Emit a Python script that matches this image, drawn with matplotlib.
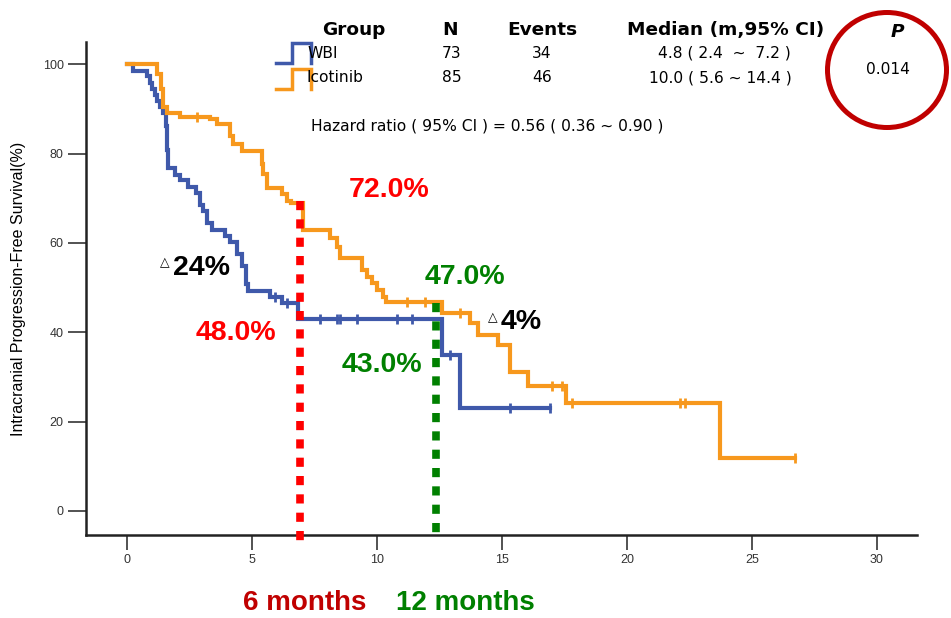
import numpy as np
import matplotlib
matplotlib.use('Agg')
import matplotlib.pyplot as plt
from matplotlib.lines import Line2D
from matplotlib.patches import Ellipse

plt.rcParams['font.family'] = ['Liberation Sans', 'DejaVu Sans']

# Kaplan-Meier step data (months, % survival)
wbi_t = [0, 0.25, 0.8, 0.9, 1.0, 1.1, 1.2, 1.3, 1.45, 1.55, 1.6, 1.65, 1.9, 2.1, 2.45,
         2.75, 2.9, 3.05, 3.2, 3.4, 3.9, 4.1, 4.4, 4.6, 4.75, 4.85, 5.7, 6.2, 6.85,
         12.6, 13.3]
wbi_s = [100, 98.6, 97.3, 95.9, 94.5, 93.2, 91.8, 90.4, 89.0, 86.3, 80.8, 76.7, 75.3,
         74.0, 72.6, 71.2, 68.5, 67.1, 64.4, 63.0, 61.6, 60.3, 57.5, 54.8, 50.7, 49.3,
         47.9, 46.6, 43.0, 34.9, 23.1]
wbi_end = 16.9
wbi_cens_t = [5.9, 6.4, 7.7, 8.4, 8.5, 9.2, 10.8, 11.4, 12.9, 15.3, 16.9]

ico_t = [0, 1.2, 1.35, 1.45, 1.6, 2.1, 3.3, 3.6, 4.1, 4.25, 4.6, 5.4, 5.45, 5.6, 6.2,
         6.4, 6.55, 7.05, 8.1, 8.4, 8.5, 9.4, 9.6, 9.8, 10.0, 10.25, 10.35, 12.6,
         13.7, 14.05, 14.85, 15.3, 16.05, 17.55, 23.7]
ico_s = [100, 97.8, 94.5, 90.5, 89.0, 88.3, 87.8, 86.7, 84.0, 82.2, 80.6, 77.7, 75.5,
         72.3, 71.0, 69.5, 69.0, 62.8, 61.1, 59.1, 56.7, 54.0, 52.4, 51.1, 49.5, 48.0,
         46.8, 44.3, 42.1, 39.4, 37.2, 31.0, 27.9, 24.1, 11.9]
ico_end = 26.7
ico_cens_t = [2.8, 11.2, 11.9, 13.3, 17.0, 17.4, 17.8, 22.1, 22.3, 26.7]

xticks = [0, 5, 10, 15, 20, 25, 30]
yticks = [0, 20, 40, 60, 80, 100]

table_head = ['Group', 'N', 'Events', 'Median (m,95% CI)']
groups = ['WBI', 'Icotinib']
n_pat = ['73', '85']
n_events = ['34', '46']
medians = ['4.8 ( 2.4  ~  7.2 )', '10.0 ( 5.6 ~ 14.4 )']
p_value = '0.014'
hazard = 'Hazard ratio ( 95% CI ) = 0.56 ( 0.36 ~ 0.90 )'

six_m = {'t': 6.92, 'top': 69.5, 'hi': '72.0%', 'lo': '48.0%'}
twelve_m = {'t': 12.36, 'top': 46.5, 'hi': '47.0%', 'lo': '43.0%'}

blue = '#3F59AA'
orange = '#F7981D'
red = '#FF0000'
green = '#008000'

W, H = 951, 618
fig = plt.figure(figsize=(W / 100, H / 100), dpi=100)
ax = fig.add_axes([86 / W, 1 - 535 / H, (917 - 86) / W, (535 - 42) / H])


def surv_at(ts, ss, x):
    i = np.searchsorted(ts, x, side='right') - 1
    return ss[i]


for ts, ss, end, cens, col in [(wbi_t, wbi_s, wbi_end, wbi_cens_t, blue),
                               (ico_t, ico_s, ico_end, ico_cens_t, orange)]:
    xs = list(ts) + [end]
    ys = list(ss) + [ss[-1]]
    ax.step(xs, ys, where='post', color=col, lw=3.0, solid_joinstyle='miter', zorder=3)
    cy = [surv_at(ts, ss, c) for c in cens]
    ax.plot(cens, cy, ls='none', marker='|', ms=7, mew=2, color=col, zorder=3)

# 6 and 12 month guides
ax.plot([six_m['t'], six_m['t']], [six_m['top'], -7.8], color=red, lw=5.5,
        ls=(0, (1.2, 1.2)), solid_capstyle='butt', clip_on=False, zorder=4)
ax.plot([twelve_m['t'], twelve_m['t']], [twelve_m['top'], -6.5], color=green, lw=5.5,
        ls=(0, (1.2, 1.2)), solid_capstyle='butt', clip_on=False, zorder=4)

bold = dict(fontweight='bold', fontsize=20.5, ha='center', va='center')
ax.text(10.48, 71.9, six_m['hi'], color=red, **bold)
ax.text(4.36, 39.9, six_m['lo'], color=red, **bold)
ax.text(13.52, 52.4, twelve_m['hi'], color=green, **bold)
ax.text(10.2, 32.7, twelve_m['lo'], color=green, **bold)
ax.text(3.0, 54.4, '24%', color='black', **bold)
ax.text(15.78, 42.3, '4%', color='black', **bold)
ax.text(1.52, 55.6, '\u25b3', fontsize=9, ha='center', va='center',
        family=['DejaVu Sans'])
ax.text(14.62, 43.3, '\u25b3', fontsize=9, ha='center', va='center',
        family=['DejaVu Sans'])

ax.set_xlim(-1.64, 31.6)
ax.set_ylim(-5.4, 105.0)
ax.set_xticks(xticks)
ax.set_yticks(yticks)
for s in ['top', 'right']:
    ax.spines[s].set_visible(False)
for s in ['left', 'bottom']:
    ax.spines[s].set_linewidth(1.8)
    ax.spines[s].set_color('#222222')
ax.tick_params(axis='x', length=11, width=1.3, color='#444444', labelsize=9,
               labelcolor='#333333', pad=3)
ax.tick_params(axis='y', length=13, width=1.3, color='#444444', labelsize=9,
               labelcolor='#333333', pad=3)
ax.set_ylabel('Intracranial Progression-Free Survival(%)', fontsize=11.5, labelpad=12)


def fx(px):
    return px / W


def fy(py):
    return 1 - py / H


# table above the plot (wide sans, like the original)
tab = ['DejaVu Sans']
head = dict(fontsize=13.3, fontweight='bold', ha='center', va='center', family=tab)
fig.text(fx(354), fy(30), table_head[0], **head)
fig.text(fx(450), fy(30), table_head[1], **head)
fig.text(fx(542), fy(30), table_head[2], **head)
fig.text(fx(726), fy(30), table_head[3], **head)
fig.text(fx(897), fy(32), 'P', fontsize=13.3, fontweight='bold', style='italic',
         ha='center', va='center', family=tab)

body = dict(fontsize=11.2, va='center', family=tab)
row_y = [53, 78]
med_x = [724, 720]
icon_cols = [blue, orange]
icon_top = [43, 69]
icon_bot = [63, 89]
for i in range(2):
    xs = [fx(276), fx(292), fx(292), fx(311), fx(311)]
    ys = [fy(icon_bot[i]), fy(icon_bot[i]), fy(icon_top[i]), fy(icon_top[i]), fy(icon_bot[i])]
    fig.add_artist(Line2D(xs, ys, color=icon_cols[i], lw=2.5, solid_joinstyle='miter'))
    fig.text(fx(307), fy(row_y[i]), groups[i], ha='left', **body)
    fig.text(fx(452), fy(row_y[i]), n_pat[i], ha='center', **body)
    fig.text(fx(542), fy(row_y[i]), n_events[i], ha='center', **body)
    fig.text(fx(med_x[i]), fy(row_y[i]), medians[i], ha='center', **body)

fig.text(fx(888), fy(69), p_value, ha='center', **body)
fig.text(fx(311), fy(126), hazard, ha='left', **body)

fig.add_artist(Ellipse((fx(887), fy(70)), 119 / W, 115 / H, transform=fig.transFigure,
                       fill=False, ec='#C00000', lw=3.6))

fig.text(fx(305), fy(603), '6 months', fontsize=20, fontweight='bold', color='#C00000',
         ha='center', va='center')
fig.text(fx(465), fy(603), '12 months', fontsize=20, fontweight='bold', color=green,
         ha='center', va='center')

fig.savefig('out.png', dpi=100)
